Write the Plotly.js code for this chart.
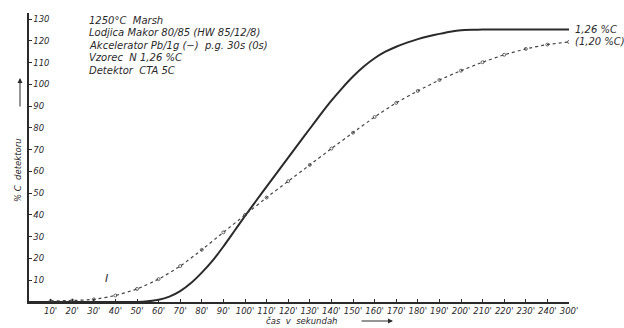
<!DOCTYPE html>
<html><head><meta charset="utf-8">
<script src="https://cdn.plot.ly/plotly-3.0.1.min.js"></script>
<style>body{margin:0;background:#fff}#c{width:624px;height:328px}</style>
</head><body><div id="c"></div>
<script>
// Curve 1,26 %C (solid)
const tSolid = [0,40,50,55,60,65,70,75,80,85,90,95,100,105,110,115,120,125,130,135,140,145,150,155,160,165,170,175,180,185,190,195,200,205,210,220,230,240,250];
const vSolid = [0,0,0,0.3,1,2.5,5,8.7,13.5,19,25.5,32.5,39.5,46.3,53,59.7,66.3,73,79.6,86.2,92.5,98.3,103.6,108.2,112,115,117.3,119.2,120.8,122.1,123.2,124.2,124.9,125.1,125.2,125.2,125.2,125.2,125.2];
// Curve (1,20 %C) (dotted with markers)
const tDot = [10,20,30,40,50,60,70,80,90,100,110,120,130,140,150,160,170,180,190,200,210,220,230,240,250];
const vDot = [0.5,0.7,1.2,3,6,10.5,16.5,24,32,40,48,55.5,63,70.5,77.8,85,91.5,97,102,106.3,110.2,113.6,116.3,118.3,119.5];
// Tick labels
const xTickVals = [10,20,30,40,50,60,70,80,90,100,110,120,130,140,150,160,170,180,190,200,210,220,230,240,250];
const xTickText = ["10'","20'","30'","40'","50'","60'","70'","80'","90'","100'","110'","120'","130'","140'","150'","160'","170'","180'","190'","200'","210'","220'","230'","240'","300'"];
const yTickVals = [10,20,30,40,50,60,70,80,90,100,110,120,130];
const infoLines = ["1250°C  Marsh","Lodjica Makor 80/85 (HW 85/12/8)","Akcelerator Pb/1g (−)  p.g. 30s (0s)","Vzorec  N 1,26 %C","Detektor  CTA 5C"];

const ink = '#2a2a2a';
const fnt = {family:'DejaVu Sans, sans-serif', size:8.5, color:ink, style:'italic'};
const big = {family:'DejaVu Sans, sans-serif', size:10, color:ink, style:'italic'};

const PT = 13, PB = 302, PL = 29, PR = 569;
const px = x => (x-PL)/(PR-PL);
const py = y => (PB-y)/(PB-PT);

const traces = [
  {x:tSolid, y:vSolid, mode:'lines', line:{color:ink, width:2, shape:'spline', smoothing:0.5}, hoverinfo:'skip'},
  {x:tDot, y:vDot, mode:'lines+markers', line:{color:'#444', width:1.2, dash:'dot', shape:'spline', smoothing:0.5},
   marker:{symbol:'circle-open', size:3, color:'#444', line:{width:0.8}}, hoverinfo:'skip'}
];

const ann = infoLines.map((s,i)=>({xref:'paper', yref:'paper', x:px(87), y:py(20+i*12.5), xanchor:'left', yanchor:'middle', text:s, showarrow:false, font:big}));
ann.push({xref:'x', yref:'y', x:250, y:125.2, xanchor:'left', yanchor:'middle', xshift:4, text:'1,26 %C', showarrow:false, font:big});
ann.push({xref:'x', yref:'y', x:250, y:119.5, xanchor:'left', yanchor:'middle', xshift:4, text:'(1,20 %C)', showarrow:false, font:big});
ann.push({xref:'x', yref:'y', x:36, y:11, text:'I', showarrow:false, font:{family:'DejaVu Sans, sans-serif', size:11, color:ink, style:'italic'}});
ann.push({xref:'paper', yref:'paper', x:px(302), y:py(321), xanchor:'center', yanchor:'middle', text:'čas  v  sekundah', showarrow:false, font:fnt});
ann.push({xref:'paper', yref:'paper', x:px(393), y:py(321), ax:-33, ay:0, showarrow:true, arrowhead:2, arrowsize:1, arrowwidth:1, arrowcolor:ink, text:''});
ann.push({xref:'paper', yref:'paper', x:px(18), y:py(170), textangle:-90, xanchor:'center', yanchor:'middle', text:'% C  detektoru', showarrow:false, font:fnt});
ann.push({xref:'paper', yref:'paper', x:px(20), y:py(78), ax:0, ay:30, showarrow:true, arrowhead:2, arrowsize:1, arrowwidth:1, arrowcolor:ink, text:''});

const layout = {
  width:624, height:328,
  margin:{l:PL, r:624-PR, t:PT, b:328-PB},
  paper_bgcolor:'#fff', plot_bgcolor:'#fff',
  showlegend:false,
  xaxis:{range:[0,250], showgrid:false, zeroline:false, showline:true, linecolor:ink, linewidth:2,
    tickmode:'array', tickvals:xTickVals, ticktext:xTickText, ticks:'inside', ticklen:3, tickcolor:ink,
    tickfont:fnt, tickangle:0},
  yaxis:{range:[0,132.8], showgrid:false, zeroline:false, showline:true, linecolor:ink, linewidth:2,
    tickmode:'array', tickvals:yTickVals, ticks:'inside', ticklen:3, tickcolor:ink,
    ticklabelposition:'inside', tickfont:fnt},
  annotations:ann
};
Plotly.newPlot('c', traces, layout, {staticPlot:true});
</script></body></html>
